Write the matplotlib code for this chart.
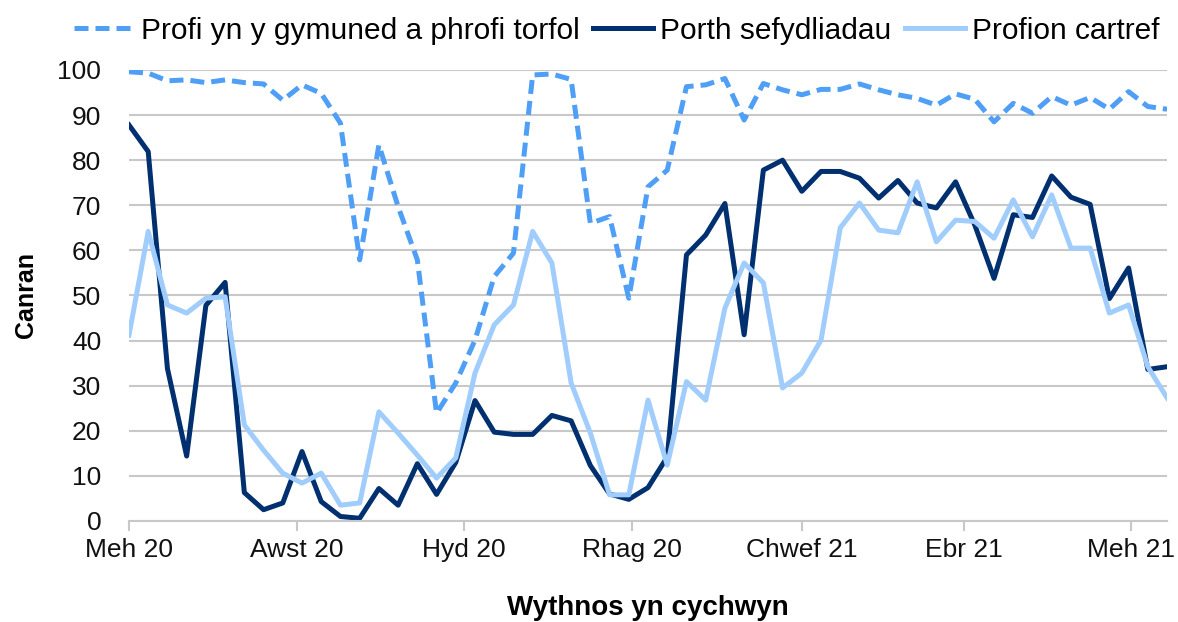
import pandas as pd
import matplotlib
matplotlib.use("Agg")
import matplotlib.pyplot as plt

plt.rcParams['font.family'] = ['Liberation Sans', 'DejaVu Sans']

# weekly data, week starting
weeks = pd.date_range('2020-06-01', periods=55, freq='7D')

community = [99.6, 99.3, 97.6, 97.8, 97.2, 97.8, 97.2, 96.9, 93.3, 96.7,
             94.8, 88.2, 57.9, 83.4, 69.7, 57.9, 23.9, 30.6, 40.1, 54.2,
             59.4, 98.9, 99.1, 97.9, 66.0, 67.5, 49.4, 74.1, 77.8, 96.3,
             96.7, 98.1, 88.9, 97.0, 95.6, 94.5, 95.7, 95.7, 96.9, 95.6,
             94.5, 93.7, 92.2, 94.7, 93.5, 88.5, 92.6, 90.4, 94.1, 92.2,
             93.9, 91.3, 95.2, 91.9, 91.3]

institutions = [87.8, 81.9, 33.8, 14.4, 47.8, 52.9, 6.3, 2.5, 4.0, 15.4,
                4.3, 1.0, 0.6, 7.2, 3.5, 12.7, 5.9, 13.0, 26.7, 19.7,
                19.2, 19.2, 23.4, 22.2, 12.3, 6.0, 4.8, 7.4, 14.2, 59.0,
                63.4, 70.4, 41.3, 77.8, 80.0, 73.1, 77.5, 77.5, 76.0, 71.6,
                75.5, 70.5, 69.4, 75.2, 65.6, 53.8, 67.9, 67.3, 76.5, 71.8,
                70.2, 49.3, 56.1, 33.6, 34.2]

home = [41.2, 64.2, 47.9, 46.1, 49.4, 49.7, 21.3, 15.7, 10.6, 8.4,
        10.6, 3.5, 4.0, 24.2, 19.5, 14.6, 9.5, 14.0, 32.8, 43.5,
        47.9, 64.2, 57.2, 30.6, 19.5, 5.8, 5.8, 26.8, 12.4, 30.9,
        26.8, 47.2, 57.2, 52.8, 29.5, 32.8, 40.1, 65.0, 70.5, 64.5,
        63.9, 75.2, 61.9, 66.7, 66.4, 62.7, 71.2, 63.0, 72.3, 60.5,
        60.5, 46.1, 47.9, 34.2, 27.3]

tick_dates = pd.to_datetime(['2020-06-01', '2020-08-01', '2020-10-01', '2020-12-01',
                             '2021-02-01', '2021-04-01', '2021-06-01'])
tick_labels = ['Meh 20', 'Awst 20', 'Hyd 20', 'Rhag 20', 'Chwef 21', 'Ebr 21', 'Meh 21']

fig = plt.figure(figsize=(11.78, 6.22), dpi=100)
ax = fig.add_axes([0.1095, 0.1624, 0.8812, 0.7251])

lw = 3.6
ax.plot(weeks, community, color='#4f9ff6', lw=lw, dashes=(2.8, 1.4),
        label='Profi yn y gymuned a phrofi torfol')
ax.plot(weeks, institutions, color='#00306f', lw=lw, label='Porth sefydliadau')
ax.plot(weeks, home, color='#a0cdfc', lw=lw, label='Profion cartref')

ax.set_ylim(0, 100)
ax.set_yticks(range(0, 101, 10))
ax.set_xlim(weeks[0], weeks[-1])
ax.set_xticks(tick_dates)
ax.set_xticklabels(tick_labels)

ax.grid(axis='y', color='#c8c8c8', lw=1.5)
ax.set_axisbelow(True)
for s in ['top', 'right', 'left']:
    ax.spines[s].set_visible(False)
ax.spines['bottom'].set_color('#c8c8c8')
ax.spines['bottom'].set_linewidth(1.5)
ax.tick_params(axis='x', direction='out', length=7, width=1.5, color='#c8c8c8',
               labelsize=19, pad=5, labelcolor='#111111')
ax.tick_params(axis='y', length=0, labelsize=19, pad=20, labelcolor='#111111')

ax.set_ylabel('Canran', fontsize=18, fontweight='bold', labelpad=14)
ax.set_xlabel('Wythnos yn cychwyn', fontsize=20, fontweight='bold', labelpad=24)

ax.legend(loc='lower center', bbox_to_anchor=(0.47, 1.03), ncol=3, frameon=False,
          fontsize=21.5, handlelength=2.0, handletextpad=0.25, columnspacing=0.45,
          borderaxespad=0)

fig.savefig('out.png', dpi=100)
